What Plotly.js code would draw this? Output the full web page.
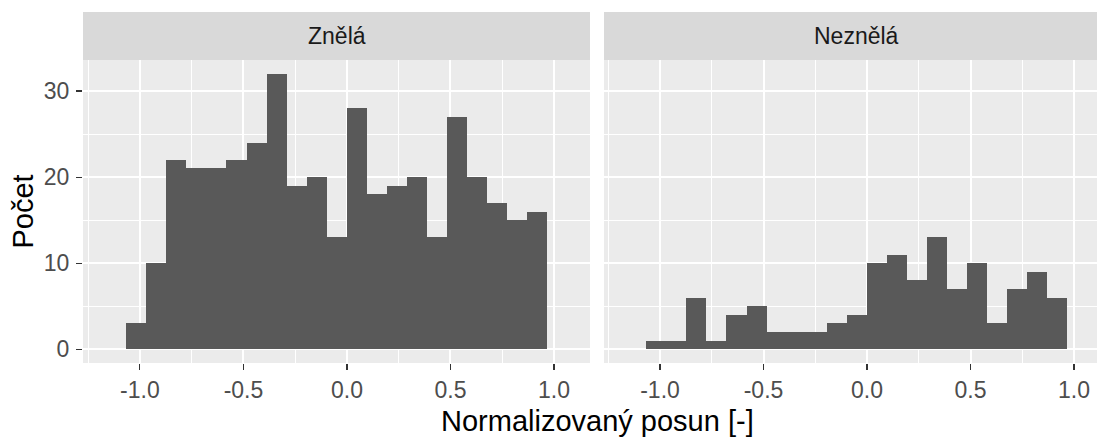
<!DOCTYPE html>
<html>
<head>
<meta charset="utf-8">
<script src="https://cdn.plot.ly/plotly-3.0.1.min.js"></script>
<style>
  html, body { margin: 0; padding: 0; background: #ffffff; overflow: hidden; }
  #chart { width: 1097px; height: 438px; }
</style>
</head>
<body>
<div id="chart"></div>
<script>
// ---- data ----
const panelNames = ["Znělá", "Neznělá"];
const binCenters = [-1.0176, -0.9208, -0.8240, -0.7272, -0.6304, -0.5336, -0.4368, -0.3400,
                    -0.2432, -0.1464, -0.0496, 0.0472, 0.1440, 0.2408, 0.3376, 0.4344,
                    0.5312, 0.6280, 0.7248, 0.8216, 0.9184];
const binWidth = 0.0968;
const countsZnela   = [3, 10, 22, 21, 21, 22, 24, 32, 19, 20, 13, 28, 18, 19, 20, 13, 27, 20, 17, 15, 16];
const countsNeznela = [1, 1, 6, 1, 4, 5, 2, 2, 2, 3, 4, 10, 11, 8, 13, 7, 10, 3, 7, 9, 6];
const xTickVals = [-1.0, -0.5, 0.0, 0.5, 1.0];
const xTickText = ["-1.0", "-0.5", "0.0", "0.5", "1.0"];
const yTickVals = [0, 10, 20, 30];
const yTickText = ["0", "10", "20", "30"];
const xTitle = "Normalizovaný posun [-]";
const yTitle = "Počet";

// ---- style ----
const FONT = "Liberation Sans, Arial, sans-serif";
const barColor = "#595959";
const panelBg = "#EBEBEB";
const stripBg = "#D9D9D9";
const yDomTop = 0.8632;

function barTrace(y, xa, ya) {
  return {
    type: "bar", x: binCenters, y: y, width: binWidth,
    xaxis: xa, yaxis: ya,
    marker: { color: barColor, line: { width: 0 } },
    hoverinfo: "x+y", showlegend: false
  };
}

const xBase = {
  tickmode: "array", tickvals: xTickVals, ticktext: xTickText,
  ticks: "outside", ticklen: 6, tickwidth: 1.1, tickcolor: "#333333",
  tickfont: { family: FONT, size: 23, color: "#4D4D4D" },
  showgrid: true, gridcolor: "#FFFFFF", gridwidth: 2,
  minor: { tickmode: "array", tickvals: [-1.25, -0.75, -0.25, 0.25, 0.75, 1.25], showgrid: true, gridcolor: "#FFFFFF", gridwidth: 1, ticks: "" },
  zeroline: false, showline: false, fixedrange: true
};
const yBase = {
  range: [-1.6, 33.6], domain: [0, yDomTop],
  tickmode: "array", tickvals: yTickVals, ticktext: yTickText,
  showgrid: true, gridcolor: "#FFFFFF", gridwidth: 2,
  minor: { tickmode: "array", tickvals: [5, 15, 25], showgrid: true, gridcolor: "#FFFFFF", gridwidth: 1, ticks: "" },
  zeroline: false, showline: false, fixedrange: true
};

const layout = {
  width: 1097, height: 438,
  margin: { l: 83, r: 0, t: 12, b: 75 },
  paper_bgcolor: "#FFFFFF",
  plot_bgcolor: "rgba(0,0,0,0)",
  bargap: 0,
  font: { family: FONT },
  xaxis: Object.assign({}, xBase, { domain: [0, 0.5], range: [-1.275, 1.174], anchor: "y" }),
  xaxis2: Object.assign({}, xBase, { domain: [0.5138, 1], range: [-1.2705, 1.111], anchor: "y2" }),
  yaxis: Object.assign({}, yBase, {
    anchor: "x",
    ticks: "outside", ticklen: 6, tickwidth: 1.1, tickcolor: "#333333",
    ticklabelstandoff: 2,
    tickfont: { family: FONT, size: 23, color: "#4D4D4D" }
  }),
  yaxis2: Object.assign({}, yBase, { anchor: "x2", ticks: "", showticklabels: false }),
  shapes: [
    { type: "rect", xref: "paper", yref: "paper", x0: 0, x1: 0.5, y0: 0, y1: yDomTop, fillcolor: panelBg, line: { width: 0 }, layer: "below" },
    { type: "rect", xref: "paper", yref: "paper", x0: 0.5138, x1: 1, y0: 0, y1: yDomTop, fillcolor: panelBg, line: { width: 0 }, layer: "below" },
    { type: "rect", xref: "paper", yref: "paper", x0: 0, x1: 0.5, y0: yDomTop, y1: 1, fillcolor: stripBg, line: { width: 0 } },
    { type: "rect", xref: "paper", yref: "paper", x0: 0.5138, x1: 1, y0: yDomTop, y1: 1, fillcolor: stripBg, line: { width: 0 } }
  ],
  annotations: [
    { text: panelNames[0], xref: "x", yref: "paper", x: -0.0505, y: (1 + yDomTop) / 2, xanchor: "center", yanchor: "middle", showarrow: false, font: { family: FONT, size: 23, color: "#1A1A1A" } },
    { text: panelNames[1], xref: "x2", yref: "paper", x: -0.0505, y: (1 + yDomTop) / 2, xanchor: "center", yanchor: "middle", showarrow: false, font: { family: FONT, size: 23, color: "#1A1A1A" } },
    { text: xTitle, xref: "paper", yref: "paper", x: 0.507, y: -0.165, xanchor: "center", yanchor: "middle", showarrow: false, font: { family: FONT, size: 29, color: "#000000" } },
    { text: yTitle, xref: "paper", yref: "paper", x: -0.0592, y: yDomTop / 2, xanchor: "center", yanchor: "middle", textangle: -90, showarrow: false, font: { family: FONT, size: 29, color: "#000000" } }
  ]
};

Plotly.newPlot("chart", [
  barTrace(countsZnela, "x", "y"),
  barTrace(countsNeznela, "x2", "y2")
], layout, { displayModeBar: false, staticPlot: true });
</script>
</body>
</html>
